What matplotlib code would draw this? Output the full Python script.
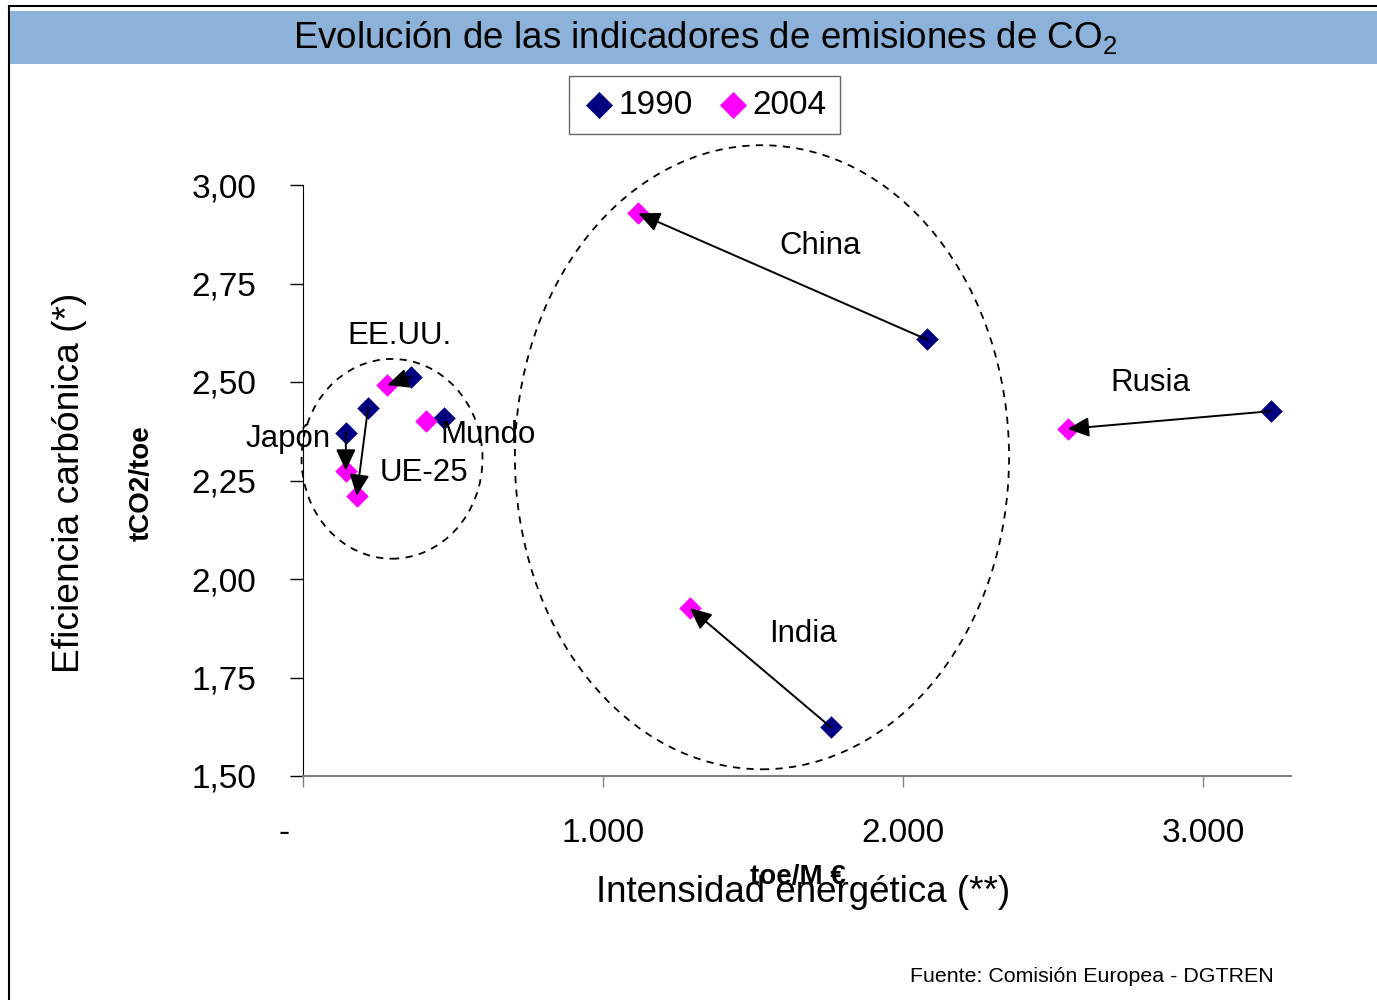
import numpy as np
import matplotlib
matplotlib.use("Agg")
import matplotlib.pyplot as plt
from matplotlib.patches import Ellipse, Rectangle

plt.rcParams['font.family'] = ['Liberation Sans', 'DejaVu Sans']
plt.rcParams['mathtext.fontset'] = 'custom'
plt.rcParams['mathtext.rm'] = 'Liberation Sans'

# datos
paises = ['Japón', 'UE-25', 'EE.UU.', 'Mundo', 'China', 'India', 'Rusia']
int_1990 = [143, 217, 359, 470, 2079, 1759, 3227]
efi_1990 = [2.371, 2.434, 2.512, 2.409, 2.608, 1.624, 2.426]
int_2004 = [143, 179, 281, 410, 1118, 1290, 2549]
efi_2004 = [2.275, 2.211, 2.492, 2.402, 2.928, 1.926, 2.381]
con_flecha = [True, True, True, False, True, True, True]

# etiquetas de paises (posicion en datos)
etiq_x = [-50, 403, 323, 617, 1723, 1667, 2823]
etiq_y = [2.356, 2.270, 2.617, 2.366, 2.845, 1.861, 2.498]

# grupos marcados con elipse: centro x, centro y, ancho, alto
elipses = [(297, 2.305, 603, 0.507), (1530, 2.309, 1647, 1.584)]

xticks = [0, 1000, 2000, 3000]
xlabels = ['-    ', '1.000', '2.000', '3.000']
yticks = [1.50, 1.75, 2.00, 2.25, 2.50, 2.75, 3.00]
ylabels = ['1,50', '1,75', '2,00', '2,25', '2,50', '2,75', '3,00']

fig = plt.figure(figsize=(13.77, 10), dpi=100)

# marco y banda del titulo
fig.patches.append(Rectangle((0.0065, -0.01), 1.0, 1.004, transform=fig.transFigure,
                             fill=False, edgecolor='black', lw=1.5))
fig.patches.append(Rectangle((0.0073, 0.936), 1.0, 0.053, transform=fig.transFigure,
                             facecolor='#8DB2DA', edgecolor='none'))
fig.text(0.512, 0.962, 'Evolución de las indicadores de emisiones de CO$_2$',
         ha='center', va='center', fontsize=26.5)

ax = fig.add_axes([0.220, 0.224, 0.7175, 0.591])
ax.set_xlim(0, 3293)
ax.set_ylim(1.5, 3.0)

for cx, cy, w, h in elipses:
    ax.add_patch(Ellipse((cx, cy), w, h, fill=False, edgecolor='black',
                         lw=1.3, linestyle=(0, (4, 3.5)), clip_on=False))

h1 = ax.scatter(int_1990, efi_1990, marker='D', s=11.5 ** 2, color='#000080',
                linewidths=0, label='1990', zorder=3, clip_on=False)
h2 = ax.scatter(int_2004, efi_2004, marker='D', s=11.5 ** 2, color='#FF00FF',
                linewidths=0, label='2004', zorder=3, clip_on=False)

for i in range(len(paises)):
    if con_flecha[i]:
        ax.annotate('', xy=(int_2004[i], efi_2004[i]), xytext=(int_1990[i], efi_1990[i]),
                    arrowprops=dict(arrowstyle='-|>,head_length=0.65,head_width=0.3',
                                    mutation_scale=20, color='black', lw=1.4,
                                    shrinkA=0, shrinkB=0), zorder=4)
    ax.text(etiq_x[i], etiq_y[i], paises[i], ha='center', va='center', fontsize=22.5, zorder=5)

ax.spines['top'].set_visible(False)
ax.spines['right'].set_visible(False)
ax.spines['left'].set_color('black')
ax.spines['bottom'].set_color('#808080')
ax.spines['bottom'].set_linewidth(1.5)

ax.set_xticks(xticks)
ax.set_xticklabels(xlabels)
ax.set_yticks(yticks)
ax.set_yticklabels(ylabels)
ax.tick_params(axis='y', direction='out', length=9.5, width=1, pad=24, labelsize=24)
ax.tick_params(axis='x', direction='out', length=8, width=1, pad=22, labelsize=24, color='#808080')

fig.text(0.0508, 0.517, 'Eficiencia carbónica (*)', rotation=90, ha='center', va='center', fontsize=26.7)
fig.text(0.1031, 0.517, 'tCO2/toe', rotation=90, ha='center', va='center', fontsize=20, fontweight='bold')
fig.text(0.583, 0.107, 'Intensidad energética (**)', ha='center', va='center', fontsize=26.5)
fig.text(0.5795, 0.123, 'toe/M €', ha='center', va='center', fontsize=20, fontweight='bold')
fig.text(0.661, 0.018, 'Fuente: Comisión Europea - DGTREN', ha='left', va='baseline', fontsize=15.4)

leg = fig.legend(handles=[h1, h2], loc='center', bbox_to_anchor=(0.5116, 0.895), ncol=2,
                 fontsize=24, frameon=True, fancybox=False, handletextpad=0.1,
                 columnspacing=0.7, handlelength=1.0, borderpad=0.4, borderaxespad=0,
                 markerscale=1.2)
leg.get_frame().set_edgecolor('#404040')
leg.get_frame().set_linewidth(1)

fig.savefig('out.png', dpi=100)
